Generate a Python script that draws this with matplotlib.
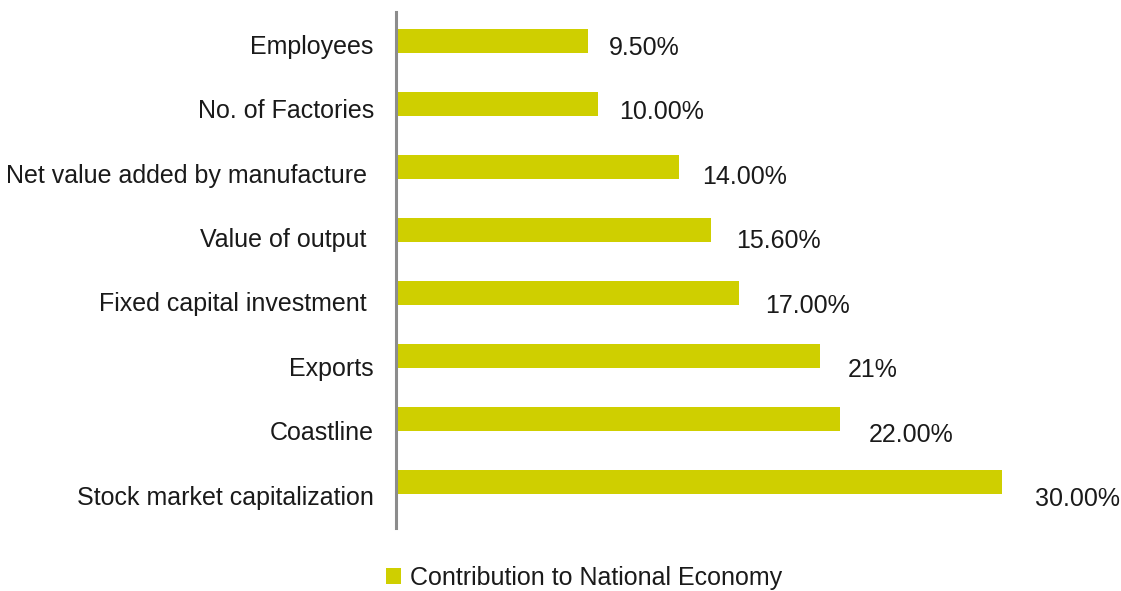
import matplotlib.pyplot as plt
from matplotlib.patches import Patch

categories = ["Employees", "No. of Factories", "Net value added by manufacture ",
              "Value of output ", "Fixed capital investment ", "Exports",
              "Coastline", "Stock market capitalization"]
values = [9.5, 10.0, 14.0, 15.6, 17.0, 21.0, 22.0, 30.0]
value_labels = ["9.50%", "10.00%", "14.00%", "15.60%", "17.00%", "21%", "22.00%", "30.00%"]
series_name = "Contribution to National Economy"

bar_color = "#cfcf00"
text_color = "#1a1a1a"
fs = 18
plt.rcParams["font.family"] = ["Liberation Sans", "DejaVu Sans"]

fig = plt.figure(figsize=(11.21, 5.91), dpi=100)
ax = fig.add_axes([0.3533, 0.1066, 0.6307, 0.8731])

n = len(categories)
pos = [n - 1 - i for i in range(n)]
ax.barh(pos, values, height=0.39, color=bar_color)

# text rows sit a little lower than the bars, drifting further down the list
label_y = [p - (0.27 - 0.0227 * p) for p in pos]
for y, v, lab in zip(label_y, values, value_labels):
    ax.text(v * 1.03 + 0.75, y, lab, ha="left", va="center", fontsize=fs, color=text_color)

ax.set_xlim(0, 35)
ax.set_ylim(-0.73, n - 1 + 0.46)
ax.set_yticks([y + 0.06 for y in label_y])
ax.set_yticklabels(categories, fontsize=fs, color=text_color)
ax.tick_params(axis="y", length=0, pad=16)
ax.set_xticks([])
for side in ["top", "right", "bottom"]:
    ax.spines[side].set_visible(False)
ax.spines["left"].set_color("#8c8c8c")
ax.spines["left"].set_linewidth(2.2)

handle = Patch(facecolor=bar_color, edgecolor="none")
fig.legend([handle], [series_name], loc="center", bbox_to_anchor=(584 / 1121, 1 - 578 / 591),
           frameon=False, fontsize=fs, handlelength=0.6, handleheight=0.6,
           handletextpad=0.35, labelcolor=text_color)

fig.savefig("out.png", dpi=100)
